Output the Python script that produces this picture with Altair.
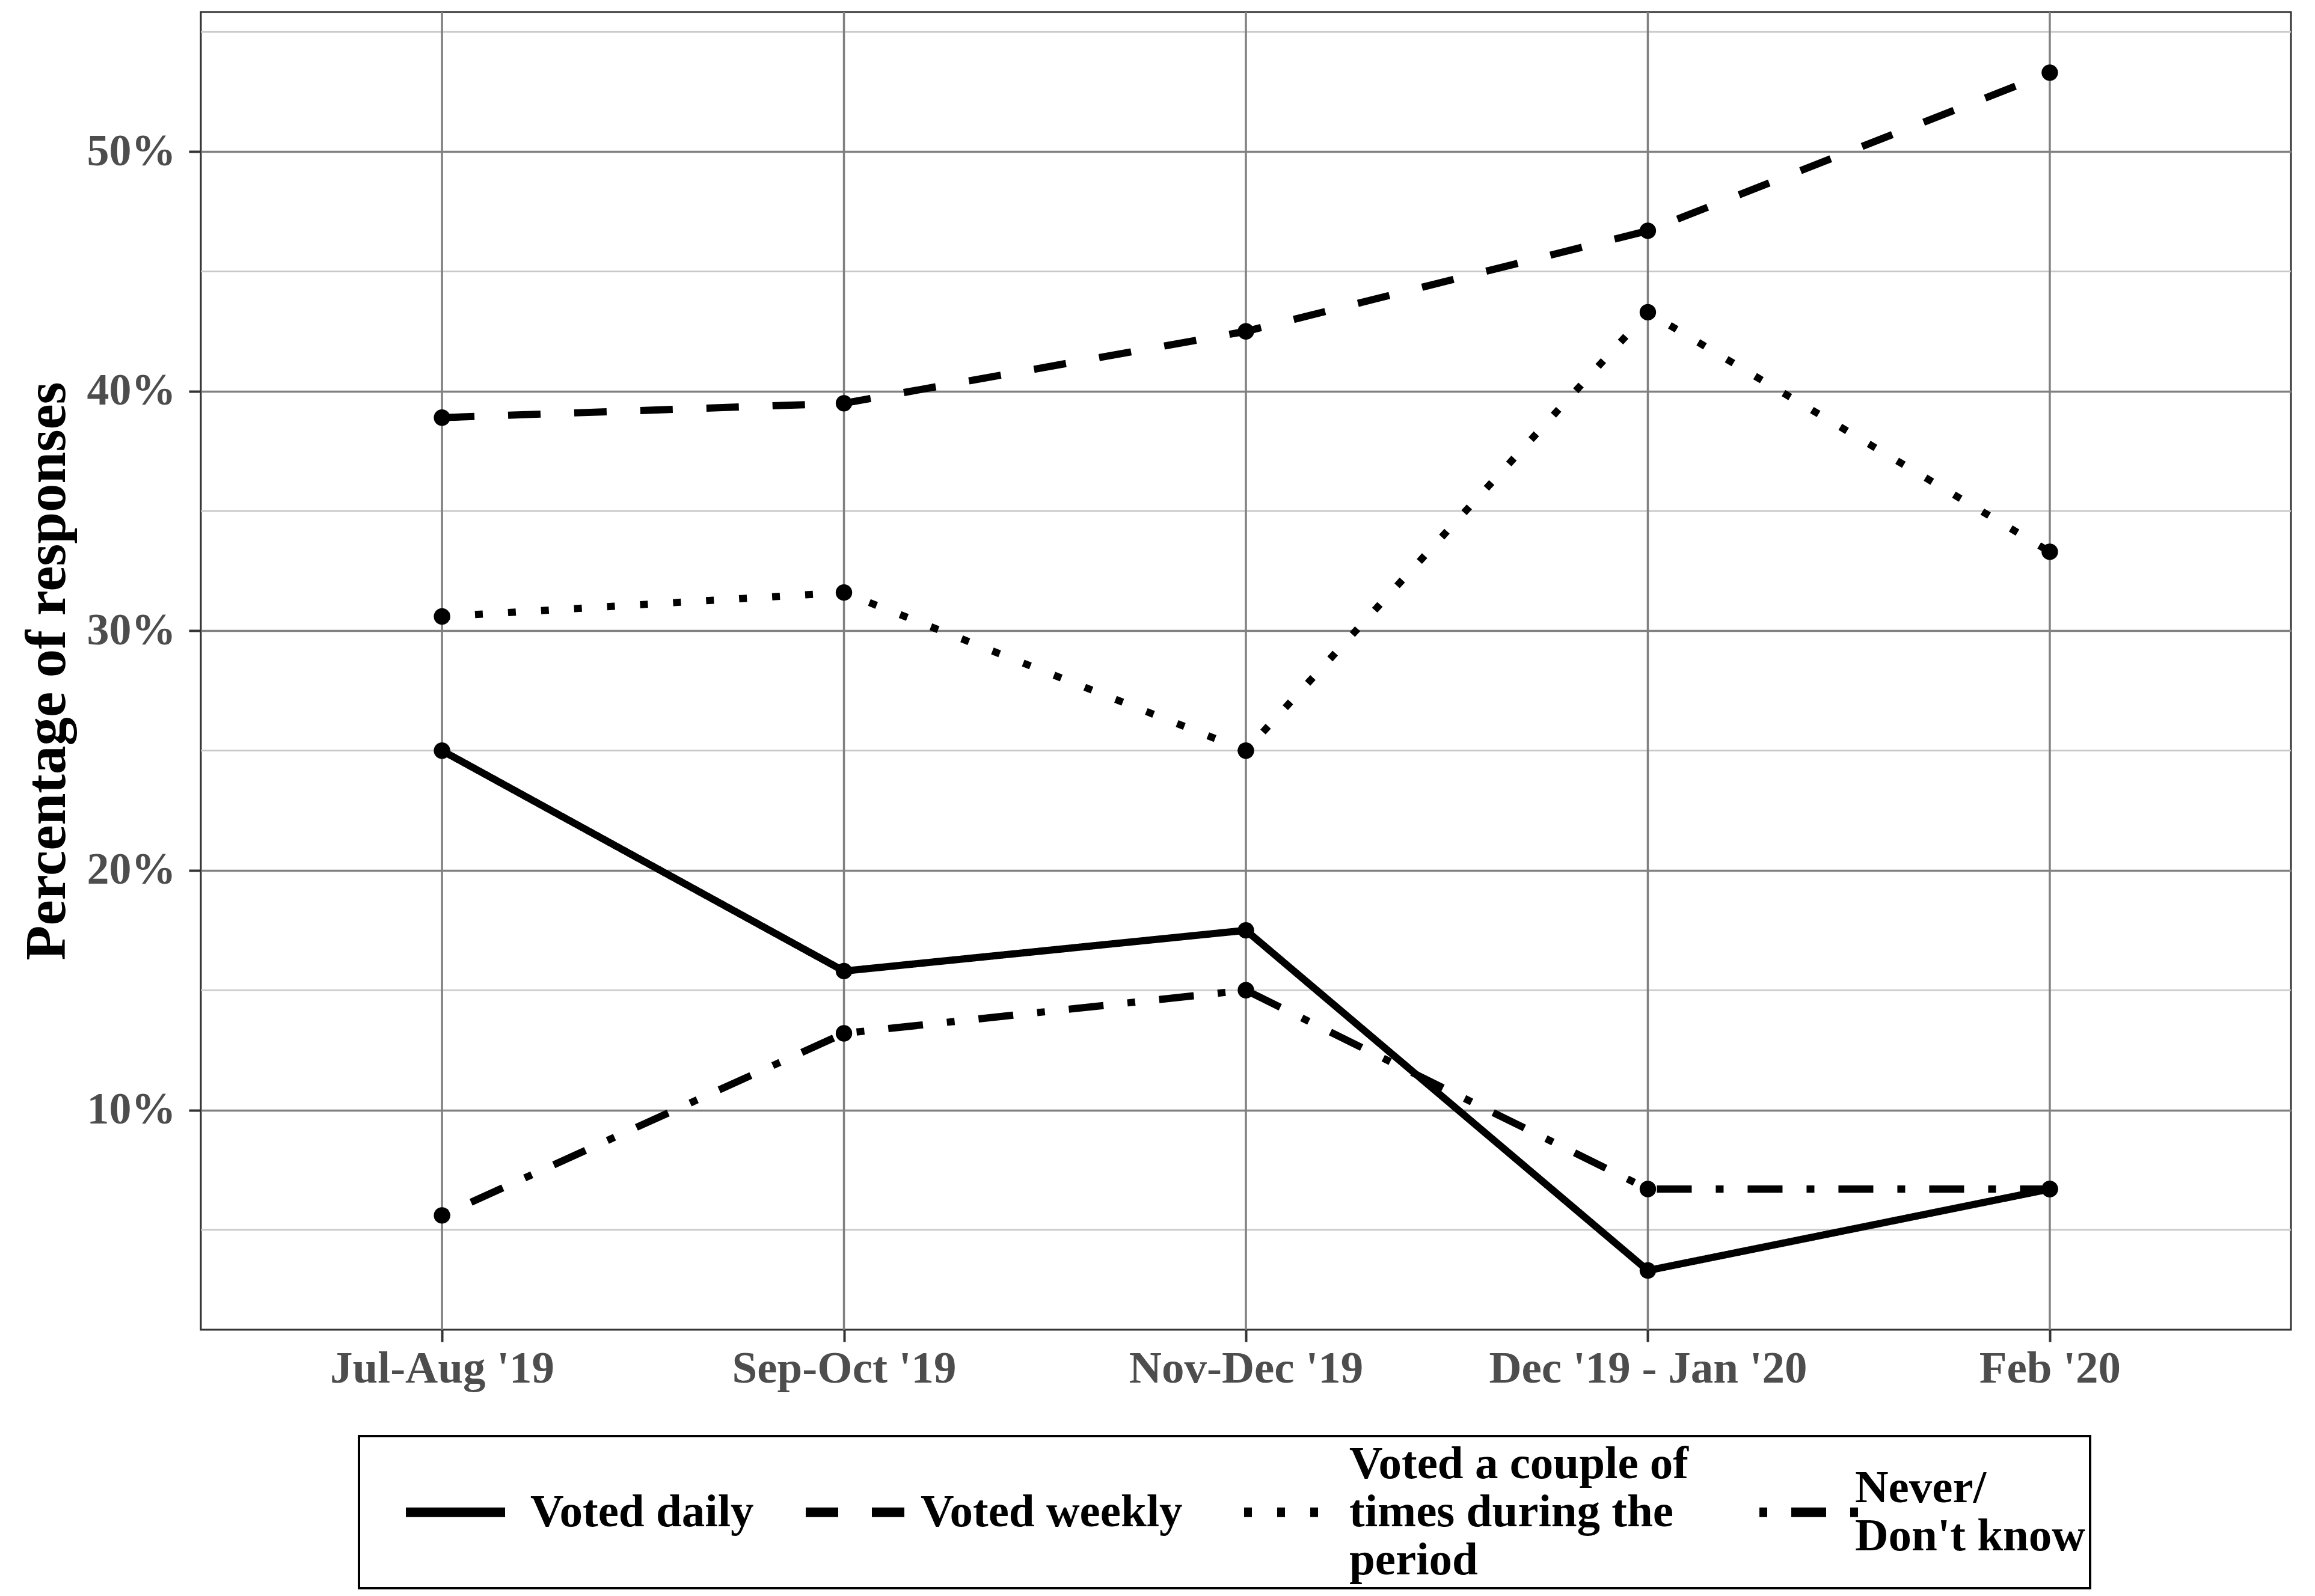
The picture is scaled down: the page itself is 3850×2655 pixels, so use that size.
import json
import altair as alt
import pandas as pd

# ---- data ----
PERIODS = ["Jul-Aug '19", "Sep-Oct '19", "Nov-Dec '19", "Dec '19 - Jan '20", "Feb '20"]
SERIES = ["Voted daily", "Voted weekly",
          "Voted a couple of times during the period", "Never/Don't know"]
DAILY = [25.0, 15.8, 17.5, 3.3, 6.7]
WEEKLY = [38.9, 39.5, 42.5, 46.7, 53.3]
COUPLE = [30.6, 31.6, 25.0, 43.3, 33.3]
NEVER = [5.6, 13.2, 15.0, 6.7, 6.7]
Y_TICKS = [10, 20, 30, 40, 50]
Y_MINOR = [5, 15, 25, 35, 45, 55]
LEGEND_LINES = [
    ["Voted daily"],
    ["Voted weekly"],
    ["Voted a couple of", "times during the", "period"],
    ["Never/", "Don't know"],
]

FONT = "Liberation Serif"
DASHES = [[1, 0], [54, 56], [13, 42], [13, 40, 58, 40]]
LEG_FS = 77
LEG_LH = 80
MAXL = max(len(l) for l in LEGEND_LINES)
WRAPPED = ["|".join(l) for l in LEGEND_LINES]

rows = []
for name, wrapped, vals in zip(SERIES, WRAPPED, [DAILY, WEEKLY, COUPLE, NEVER]):
    for p, v in zip(PERIODS, vals):
        rows.append({"period": p, "pct": v, "series": name, "wrapped": wrapped})
df = pd.DataFrame(rows)
minor_df = pd.DataFrame({"pct": Y_MINOR})
vert_df = pd.DataFrame({"period": PERIODS})

# key legend labels: same lines, padded to equal height (hidden, they only size the columns)
padded_expr = "datum.label"
for key, lines in zip(SERIES, LEGEND_LINES):
    arr = list(lines) + [""] * (MAXL - len(lines))
    padded_expr = "datum.label == " + json.dumps(key) + " ? " + json.dumps(arr) + " : (" + padded_expr + ")"

W, H = 3476, 2192

y_enc = alt.Y(
    "pct:Q",
    scale=alt.Scale(domain=[0.83, 55.83], nice=False, zero=False),
    axis=alt.Axis(
        values=Y_TICKS, labelExpr="datum.value + '%'",
        title="Percentage of responses",
        grid=True, gridColor="#808080", gridWidth=3.5,
        domain=False, ticks=True, tickColor="#333333", tickWidth=4, tickSize=20,
        labelPadding=22, labelFont=FONT, labelFontSize=74, labelFontWeight="bold",
        labelColor="#4d4d4d",
        titleFont=FONT, titleFontSize=95, titleFontWeight="bold", titleColor="black",
        titleAngle=270, titleBaseline="alphabetic", titleAlign="center",
        titleX=-227, titleY=H / 2,
    ),
)

x_enc = alt.X(
    "period:N", sort=PERIODS,
    scale=alt.Scale(type="point", domain=PERIODS, padding=0.6),
    axis=alt.Axis(
        title=None, labelAngle=0, grid=False, domain=False,
        ticks=True, tickColor="#333333", tickWidth=4, tickSize=20,
        labelPadding=8, labelFont=FONT, labelFontSize=75, labelFontWeight="bold",
        labelColor="#4d4d4d", labelLimit=2000,
    ),
)

SYM_W = 165       # key symbol width
SYM_B = 78        # (invisible) symbol of the label legend, no taller than one text line
LAB_OFF = 50
PAD = 8
LEG_COMMON = dict(
    direction="horizontal", columns=4, title=None,
    labelFont=FONT, labelFontSize=LEG_FS, labelFontWeight="bold", labelColor="black",
    labelLimit=3000, labelBaseline="middle",
    symbolType="stroke",
    symbolOffset=62, columnPadding=0, padding=PAD,
)
LEG_X, LEG_Y = 263, 2369
ROW_CENTRE = (LEG_FS + (MAXL - 1) * LEG_LH) / 2

minor = alt.Chart(minor_df).mark_rule(color="#c8c8c8", strokeWidth=2.7).encode(y=y_enc)
vert = alt.Chart(vert_df).mark_rule(color="#808080", strokeWidth=3.5).encode(x=x_enc)

# legend A: the line keys
lines = alt.Chart(df).mark_line(color="black", strokeWidth=12).encode(
    x=x_enc, y=y_enc,
    strokeDash=alt.StrokeDash(
        "series:N", sort=SERIES,
        scale=alt.Scale(domain=SERIES, range=DASHES),
        legend=alt.Legend(
            orient="none", legendX=LEG_X, legendY=LEG_Y + ROW_CENTRE - SYM_W / 2 - 8,
            labelExpr=padded_expr, labelOpacity=0,
            symbolSize=SYM_W * SYM_W, labelOffset=LAB_OFF,
            symbolStrokeColor="black", symbolStrokeWidth=16,
            **LEG_COMMON,
        ),
    ),
)

# legend B: the boxed, vertically centred labels
points = alt.Chart(df).mark_point(filled=True, color="black", size=750).encode(
    x=x_enc, y=y_enc,
    opacity=alt.Opacity(
        "wrapped:N", sort=WRAPPED,
        scale=alt.Scale(domain=WRAPPED, range=[1, 1, 1, 1]),
        legend=alt.Legend(
            orient="none", legendX=LEG_X, legendY=LEG_Y,
            labelExpr="split(datum.label, '|')",
            symbolSize=SYM_B * SYM_B, symbolOpacity=0, symbolStrokeWidth=0,
            labelOffset=LAB_OFF + SYM_W - SYM_B,
            strokeColor="black",
            **LEG_COMMON,
        ),
    ),
)

chart = (
    alt.layer(minor, vert, lines, points)
    .properties(
        width=W, height=H,
        autosize=alt.AutoSizeParams(type="none"),
        padding={"left": 326, "top": 12, "right": 30, "bottom": 433},
        background="white",
    )
    .configure(
        view=alt.ViewConfig(stroke="#333333", strokeWidth=3),
        legend=alt.LegendConfig(strokeWidth=4),
        style={"guide-label": {"lineHeight": LEG_LH}},
    )
)

chart.save("out.html", embed_options={"renderer": "svg", "actions": False})
